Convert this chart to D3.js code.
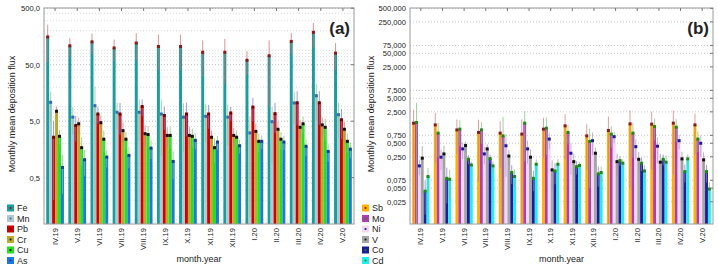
<!DOCTYPE html>
<html>
<head>
<meta charset="utf-8">
<script src="https://cdn.jsdelivr.net/npm/d3@7"></script>
<style>
  body { margin: 0; background: #fff; }
  text { font-family: "Liberation Sans", Arial, sans-serif; fill: #222; }
</style>
</head>
<body>
<svg id="chart" width="718" height="270"></svg>
<script>
const months = ['IV.19', 'V.19', 'VI.19', 'VII.19', 'VIII.19', 'IX.19', 'X.19', 'XI.19', 'XII.19', 'I.20', 'II.20', 'III.20', 'IV.20', 'V.20']

// panel (a) - means and SD
const feValues = [155, 108, 127, 99, 121, 105, 105, 83, 83, 60, 72, 129, 187, 80]
const feErrors = [100, 40, 50, 40, 60, 65, 65, 52, 60, 27, 63, 53, 86, 40]
const mnValues = [10.8, 5.9, 9.4, 7.2, 7.2, 6.7, 5.9, 6.1, 5.9, 3.1, 4.9, 10.5, 14.1, 6.5]
const mnErrors = [6, 3, 11, 3.5, 5, 5.5, 4.5, 4, 4, 3, 4, 6, 9, 4]
const pbValues = [2.6, 4.2, 6.7, 6.7, 9.1, 6.3, 6.7, 6.7, 7.0, 8.9, 6.8, 10.6, 10.6, 5.3]
const pbErrors = [2.4, 2, 2.2, 3.8, 3, 2.8, 4, 3, 2, 4, 3.7, 6.3, 6.3, 2.9]
const crValues = [7.5, 4.5, 4.7, 3.4, 3.0, 2.8, 2.8, 2.6, 2.8, 3.3, 3.6, 3.9, 4.3, 3.6]
const crErrors = [1.5, 1.3, 1.5, 1.3, 1.2, 1.1, 1.2, 0.8, 1, 1.2, 1.3, 1.4, 1.5, 1.2]
const cuValues = [2.7, 1.7, 2.4, 2.4, 2.9, 2.8, 2.7, 1.7, 2.6, 2.2, 2.4, 4.5, 3.9, 2.2]
const cuErrors = [0.8, 0.9, 1, 0.8, 1.2, 1.2, 1, 0.8, 0.8, 0.8, 0.8, 1.5, 1.6, 0.8]
const asValues = [0.76, 1.04, 1.16, 1.24, 1.67, 0.97, 2.29, 2.14, 1.84, 2.2, 2.14, 1.8, 1.46, 1.6]
const asErrors = [0.5, 0.5, 0.4, 0.5, 0.6, 0.5, 0.7, 0.6, 0.5, 0.6, 0.6, 0.6, 0.5, 0.5]

// panel (b)
const sbValues = [1.4, 1.28, 0.99, 0.87, 0.84, 0.8, 1.03, 1.22, 0.73, 0.96, 1.35, 1.33, 1.4, 1.28]
const sbErrors = [1.4, 1.1, 0.7, 0.8, 0.7, 0.9, 0.8, 1.0, 0.6, 1.0, 1.3, 1.2, 1.3, 1.0]
const moValues = [1.45, 0.84, 1.03, 0.99, 0.73, 1.4, 1.08, 0.87, 0.55, 0.8, 0.84, 1.18, 1.14, 0.62]
const moErrors = [2.5, 0.6, 0.6, 0.5, 1.2, 1.2, 0.8, 0.4, 0.5, 0.4, 0.6, 0.6, 0.6, 0.3]
const niValues = [0.157, 0.245, 0.375, 0.29, 0.44, 0.375, 0.62, 0.3, 0.57, 0.7, 0.42, 0.43, 0.57, 0.5]
const niErrors = [0.06, 0.12, 0.15, 0.12, 0.35, 0.2, 0.25, 0.2, 0.3, 0.2, 0.2, 0.25, 0.2, 0.25]
const vValues = [0.233, 0.29, 0.445, 0.375, 0.26, 0.245, 0.128, 0.195, 0.3, 0.195, 0.22, 0.19, 0.225, 0.214]
const vErrors = [0.2, 0.15, 0.1, 0.1, 0.1, 0.12, 0.08, 0.1, 0.1, 0.1, 0.1, 0.1, 0.1, 0.1]
const coValues = [0.043, 0.083, 0.221, 0.228, 0.112, 0.083, 0.121, 0.151, 0.104, 0.206, 0.18, 0.22, 0.117, 0.117]
const coErrors = [0.03, 0.06, 0.05, 0.05, 0.05, 0.04, 0.06, 0.05, 0.05, 0.05, 0.06, 0.06, 0.05, 0.05]
const cdValues = [0.091, 0.079, 0.165, 0.157, 0.091, 0.171, 0.171, 0.16, 0.112, 0.18, 0.121, 0.19, 0.225, 0.048]
const cdErrors = [0.05, 0.05, 0.03, 0.04, 0.04, 0.05, 0.05, 0.03, 0.04, 0.04, 0.04, 0.08, 0.06, 0.02]

const ticksA = [500, 50, 5, 0.5]
const ticksB = [500, 250, 75, 50, 25, 7.5, 5, 2.5, 0.75, 0.5, 0.25, 0.075, 0.05, 0.025]

const svg = d3.select('#chart')

const drawPanel = (cfg) => {
    const top = 8, bottom = 224
    const g = svg.append('g')

    const y = d3.scaleLog()
        .domain(cfg.domain)
        .range([bottom, top])

    const x0 = d3.scaleBand()
        .domain(months)
        .range([cfg.left, cfg.right])
        .paddingInner(0.2)
        .paddingOuter(0.1)

    const x1 = d3.scaleBand()
        .domain(cfg.series.map(s => s.name))
        .range([0, x0.bandwidth()])

    // minor grid
    if (cfg.minor) {
        const minors = []
        for (let p = -2; p <= 3; p++) {
            for (let m = 2; m <= 9; m++) {
                const v = m * Math.pow(10, p)
                if (v > cfg.domain[0] && v < cfg.domain[1]) minors.push(v)
            }
        }
        g.append('g')
            .selectAll('line')
            .data(minors)
            .join('line')
            .attr('x1', cfg.left)
            .attr('x2', cfg.right)
            .attr('y1', d => y(d))
            .attr('y2', d => y(d))
            .attr('stroke', '#d4d4d4')
            .attr('stroke-width', 0.8)
            .attr('stroke-dasharray', '1,2')
    }

    // major grid
    g.append('g')
        .selectAll('line')
        .data(cfg.ticks)
        .join('line')
        .attr('x1', cfg.left)
        .attr('x2', cfg.right)
        .attr('y1', d => y(d))
        .attr('y2', d => y(d))
        .attr('stroke', '#bdbdbd')
        .attr('stroke-width', 0.8)
        .attr('stroke-dasharray', '1,2')

    // bars
    const groups = g.append('g')
        .selectAll('g')
        .data(months)
        .join('g')
        .attr('transform', d => `translate(${x0(d)},0)`)

    groups.selectAll('rect')
        .data((d, i) => cfg.series.map(s => ({ s: s, v: s.values[i], e: s.errors[i] })))
        .join('rect')
        .attr('x', d => x1(d.s.name))
        .attr('y', d => y(d.v))
        .attr('width', x1.bandwidth())
        .attr('height', d => bottom - y(d.v))
        .attr('fill', d => d.s.color)

    // error whiskers
    groups.selectAll('line.err')
        .data((d, i) => cfg.series.map(s => ({ s: s, v: s.values[i], e: s.errors[i] })))
        .join('line')
        .attr('class', 'err')
        .attr('x1', d => x1(d.s.name) + x1.bandwidth() / 2)
        .attr('x2', d => x1(d.s.name) + x1.bandwidth() / 2)
        .attr('y1', d => y(Math.max(d.v - d.e, cfg.domain[0])))
        .attr('y2', d => y(d.v + d.e))
        .attr('stroke', d => d.s.whisker)
        .attr('stroke-width', 1)
        .attr('opacity', 0.75)

    // markers on bar tops
    groups.selectAll('rect.mk')
        .data((d, i) => cfg.series.map(s => ({ s: s, v: s.values[i] })))
        .join('rect')
        .attr('class', 'mk')
        .attr('x', d => x1(d.s.name) + x1.bandwidth() / 2 - 1.5)
        .attr('y', d => y(d.v) - 1.5)
        .attr('width', 3)
        .attr('height', 3)
        .attr('fill', d => d.s.marker)

    // frame
    g.append('rect')
        .attr('x', cfg.left)
        .attr('y', top)
        .attr('width', cfg.right - cfg.left)
        .attr('height', bottom - top)
        .attr('fill', 'none')
        .attr('stroke', '#9a9a9a')
        .attr('stroke-width', 1)

    // small ticks on top / bottom at category centres
    const centres = months.map(m => x0(m) + x0.bandwidth() / 2)
    g.append('g')
        .selectAll('line')
        .data(centres)
        .join('line')
        .attr('x1', d => d)
        .attr('x2', d => d)
        .attr('y1', top)
        .attr('y2', top + 3)
        .attr('stroke', '#777')

    g.append('g')
        .selectAll('line')
        .data(cfg.ticks)
        .join('line')
        .attr('x1', cfg.right - 3)
        .attr('x2', cfg.right)
        .attr('y1', d => y(d))
        .attr('y2', d => y(d))
        .attr('stroke', '#777')

    // y axis labels
    const yAxis = g.append('g')
        .attr('transform', `translate(${cfg.left},0)`)
        .call(d3.axisLeft(y).tickValues(cfg.ticks).tickFormat(cfg.format).tickSize(0).tickPadding(4))
    yAxis.select('.domain').remove()
    yAxis.selectAll('text')
        .style('font-size', '7.6px')
        .style('font-family', '"Liberation Sans", Arial, sans-serif')
        .attr('fill', '#222')

    // x labels
    g.append('g')
        .selectAll('text')
        .data(months)
        .join('text')
        .attr('transform', d => `translate(${x0(d) + x0.bandwidth() / 2 + 2.5},228) rotate(-90)`)
        .attr('text-anchor', 'end')
        .style('font-size', '7.6px')
        .text(d => d)

    g.append('text')
        .attr('x', (cfg.left + cfg.right) / 2)
        .attr('y', 262)
        .attr('text-anchor', 'middle')
        .style('font-size', '9px')
        .text('month.year')

    g.append('text')
        .attr('transform', `translate(${cfg.titleX},114) rotate(-90)`)
        .attr('text-anchor', 'middle')
        .style('font-size', '9px')
        .text('Monthly mean deposition flux')

    g.append('text')
        .attr('x', cfg.right - 4)
        .attr('y', 34)
        .attr('text-anchor', 'end')
        .style('font-size', '17px')
        .style('font-weight', 'bold')
        .attr('fill', '#111')
        .text(cfg.label)

    // legend
    const legend = g.append('g')
        .selectAll('g')
        .data(cfg.series)
        .join('g')
        .attr('transform', (d, i) => `translate(${cfg.legendX},${208 + i * 10.5})`)

    legend.append('rect')
        .attr('x', 0)
        .attr('y', -3.5)
        .attr('width', 7)
        .attr('height', 7)
        .attr('fill', d => d.color)
    legend.append('rect')
        .attr('x', 2.6)
        .attr('y', -0.9)
        .attr('width', 1.8)
        .attr('height', 1.8)
        .attr('fill', d => d.marker)
    legend.append('text')
        .attr('x', 10)
        .attr('y', 3.3)
        .style('font-size', '9px')
        .text(d => d.name)
}

const commaFmt = (digits) => (d => d3.format('.' + digits + 'f')(d).replace('.', ','))

drawPanel({
    left: 44, right: 354, domain: [0.0757, 504], ticks: ticksA, minor: true,
    format: commaFmt(1), titleX: 15, legendX: 7, label: '(a)',
    series: [
        { name: 'Fe', values: feValues, errors: feErrors, color: '#1c9c9c', marker: '#8a1a1a', whisker: '#d07070' },
        { name: 'Mn', values: mnValues, errors: mnErrors, color: '#aecbd3', marker: '#3a6aa8', whisker: '#8cc48c' },
        { name: 'Pb', values: pbValues, errors: pbErrors, color: '#d10000', marker: '#7a0000', whisker: '#7a7ad0' },
        { name: 'Cr', values: crValues, errors: crErrors, color: '#b6ad2e', marker: '#111111', whisker: '#d07a7a' },
        { name: 'Cu', values: cuValues, errors: cuErrors, color: '#22e022', marker: '#111111', whisker: '#86c486' },
        { name: 'As', values: asValues, errors: asErrors, color: '#1f78e0', marker: '#1a3aa0', whisker: '#86c486' }
    ]
})

drawPanel({
    left: 410, right: 713, domain: [0.008, 510], ticks: ticksB, minor: false,
    format: commaFmt(3), titleX: 373.5, legendX: 362, label: '(b)',
    series: [
        { name: 'Sb', values: sbValues, errors: sbErrors, color: '#ffb300', marker: '#8a1a1a', whisker: '#d08080' },
        { name: 'Mo', values: moValues, errors: moErrors, color: '#b03cb0', marker: '#1a8a1a', whisker: '#80c480' },
        { name: 'Ni', values: niValues, errors: niErrors, color: '#f3d8f3', marker: '#1a1a9a', whisker: '#a8a0c8' },
        { name: 'V', values: vValues, errors: vErrors, color: '#a6a6a6', marker: '#111111', whisker: '#9a9a9a' },
        { name: 'Co', values: coValues, errors: coErrors, color: '#1c1c9c', marker: '#1a8a1a', whisker: '#8080c8' },
        { name: 'Cd', values: cdValues, errors: cdErrors, color: '#22eeee', marker: '#1a8a1a', whisker: '#80c480' }
    ]
})
</script>
</body>
</html>
